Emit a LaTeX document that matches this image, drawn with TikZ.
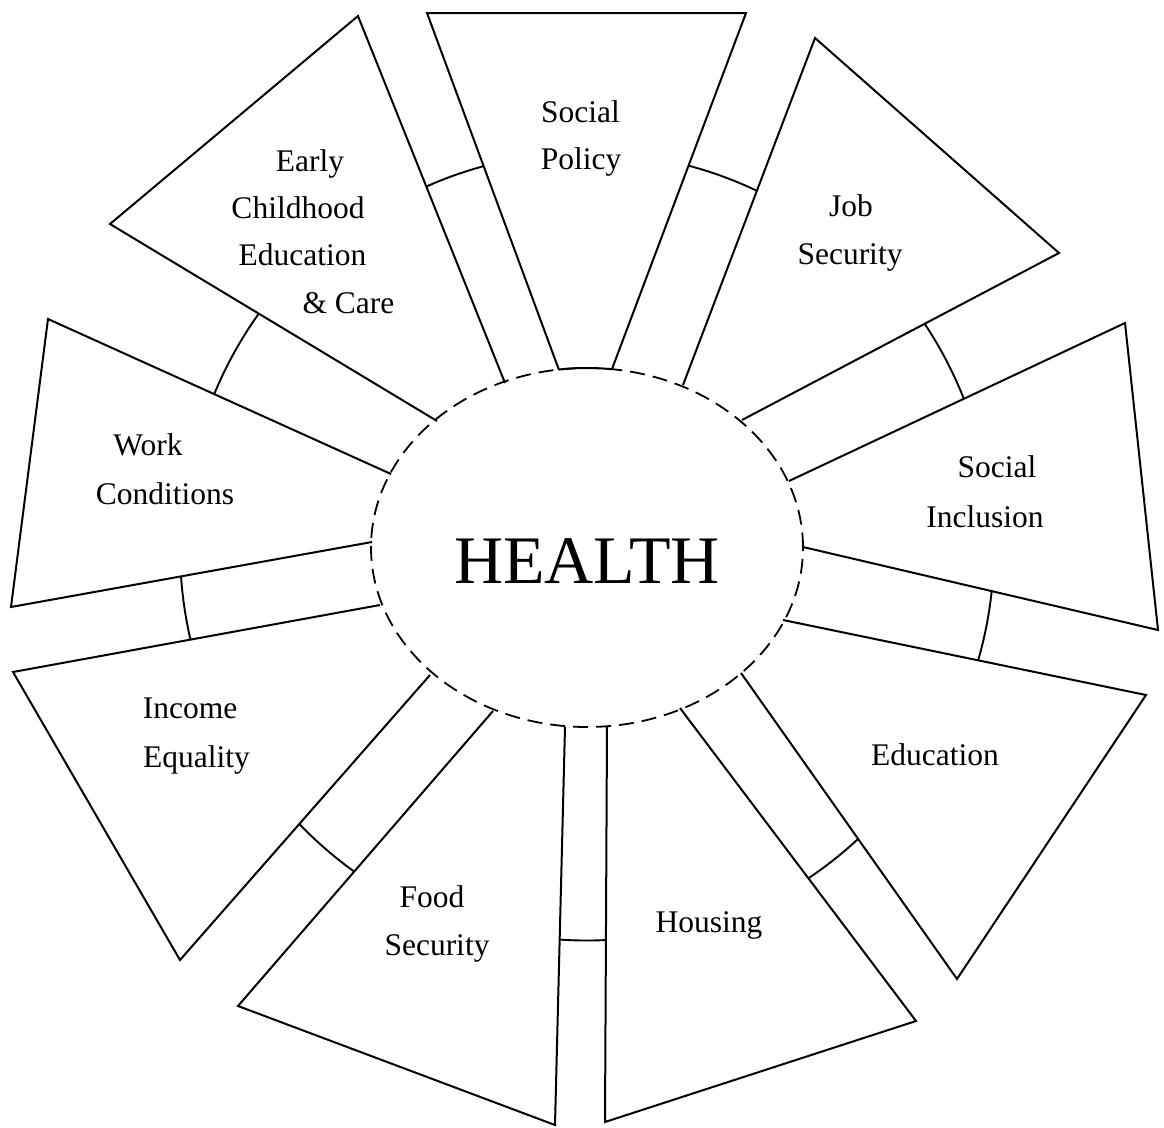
\documentclass[tikz,border=0pt]{standalone}
\usepackage{fontspec}
\setmainfont{Liberation Serif}
\begin{document}
\begin{tikzpicture}[x=1pt,y=-1pt,
  wedge/.style={draw, line width=2pt, line join=miter},
  ring/.style={draw, line width=1.9pt},
  core/.style={draw, line width=1.8pt, dash pattern=on 15pt off 8pt},
  lbl/.style={font=\fontsize{31.5}{38}\selectfont, anchor=base, inner sep=0pt},
  big/.style={font=\fontsize{68}{80}\selectfont, anchor=base, inner sep=0pt}]
\useasboundingbox (0,0) rectangle (1164,1127);
\coordinate (C) at (587,547.5);
% wedge corners
\coordinate (spi1) at (559,370);  \coordinate (spo1) at (427,13);
\coordinate (spo2) at (746,13);   \coordinate (spi2) at (612,369);
\coordinate (jsi1) at (683,385);  \coordinate (jso1) at (815,38);
\coordinate (jst)  at (1059,253); \coordinate (jsi2) at (742,420);
\coordinate (sii1) at (789,481);  \coordinate (sio1) at (1125,323);
\coordinate (sio2) at (1158,630); \coordinate (sii2) at (803,547);
\coordinate (edi1) at (783,620);  \coordinate (edo1) at (1146,695);
\coordinate (edo2) at (957,979);  \coordinate (edi2) at (741,673);
\coordinate (hoi1) at (680,708);  \coordinate (hoo1) at (916,1021);
\coordinate (hoo2) at (605,1122); \coordinate (hoi2) at (607,727);
\coordinate (fsi1) at (565,727);  \coordinate (fso1) at (555,1125);
\coordinate (fso2) at (238,1006); \coordinate (fsi2) at (493,711);
\coordinate (iei1) at (430,675);  \coordinate (ieo1) at (180,960);
\coordinate (ieo2) at (13,672);   \coordinate (iei2) at (380,605);
\coordinate (wci1) at (372,542);  \coordinate (wco1) at (11,607);
\coordinate (wco2) at (48,319);   \coordinate (wci2) at (391,474);
\coordinate (eci1) at (437,421);  \coordinate (eco1) at (110,224);
\coordinate (eco2) at (358,16);   \coordinate (eci2) at (505,383);

% central dashed ellipse
\draw[core] (C) ellipse [x radius=216pt, y radius=179.5pt];

% wedges
\draw[wedge] (spi1) -- (spo1) -- (spo2) -- (spi2);
\draw[wedge] plot[domain=262.5:276.7, samples=12] ({587+216*cos(\x)},{547.5+179.5*sin(\x)});
\draw[wedge] (jsi1) -- (jso1) -- (jst) -- (jsi2);
\draw[wedge] (sii1) -- (sio1) -- (sio2) -- (sii2);
\draw[wedge] (edi1) -- (edo1) -- (edo2) -- (edi2);
\draw[wedge] (hoi1) -- (hoo1) -- (hoo2) -- (hoi2);
\draw[wedge] (fsi1) -- (fso1) -- (fso2) -- (fsi2);
\draw[wedge] (iei1) -- (ieo1) -- (ieo2) -- (iei2);
\draw[wedge] (wci1) -- (wco1) -- (wco2) -- (wci2);
\draw[wedge] (eci1) -- (eco1) -- (eco2) -- (eci2);

% arcs across the channels
\begin{scope}\clip (eci2) -- (eco2) -- (spo1) -- (spi1) -- cycle;
  \draw[ring] (C) circle [radius=395pt];\end{scope}
\begin{scope}\clip (spi2) -- (spo2) -- (jso1) -- (jsi1) -- cycle;
  \draw[ring] (C) circle [radius=395pt];\end{scope}
\begin{scope}\clip (jsi2) -- (jst) -- (sio1) -- (sii1) -- cycle;
  \draw[ring] (C) circle [radius=405pt];\end{scope}
\begin{scope}\clip (sii2) -- (sio2) -- (edo1) -- (edi1) -- cycle;
  \draw[ring] (C) circle [radius=407pt];\end{scope}
\begin{scope}\clip (edi2) -- (edo2) -- (hoo1) -- (hoi1) -- cycle;
  \draw[ring] (C) circle [radius=398pt];\end{scope}
\begin{scope}\clip (hoi2) -- (hoo2) -- (fso1) -- (fsi1) -- cycle;
  \draw[ring] (C) circle [radius=393pt];\end{scope}
\begin{scope}\clip (fsi2) -- (fso2) -- (ieo1) -- (iei1) -- cycle;
  \draw[ring] (C) circle [radius=399pt];\end{scope}
\begin{scope}\clip (iei2) -- (ieo2) -- (wco1) -- (wci1) -- cycle;
  \draw[ring] (C) circle [radius=407pt];\end{scope}
\begin{scope}\clip (wci2) -- (wco2) -- (eco1) -- (eci1) -- cycle;
  \draw[ring] (C) circle [radius=403pt];\end{scope}

% labels
\node[big] (health) at (587,583) {HEALTH};
\node[lbl] (sp1) at (580.5,122) {Social};
\node[lbl] (sp2) at (581,169) {Policy};
\node[lbl] (js1) at (851,216) {Job};
\node[lbl] (js2) at (850,264) {Security};
\node[lbl] (si1) at (997,477) {Social};
\node[lbl] (si2) at (985,527) {Inclusion};
\node[lbl] (ed1) at (935,765) {Education};
\node[lbl] (ho1) at (709,932) {Housing};
\node[lbl] (fs1) at (432,907) {Food};
\node[lbl] (fs2) at (437,955) {Security};
\node[lbl] (ie1) at (190,718) {Income};
\node[lbl] (ie2) at (196.5,767) {Equality};
\node[lbl] (wc1) at (148,455) {Work};
\node[lbl] (wc2) at (165,504) {Conditions};
\node[lbl] (ec1) at (310,171) {Early};
\node[lbl] (ec2) at (298,218) {Childhood};
\node[lbl] (ec3) at (302.5,265) {Education};
\node[lbl] (ec4) at (348.5,313) {\& Care};
\end{tikzpicture}
\end{document}
